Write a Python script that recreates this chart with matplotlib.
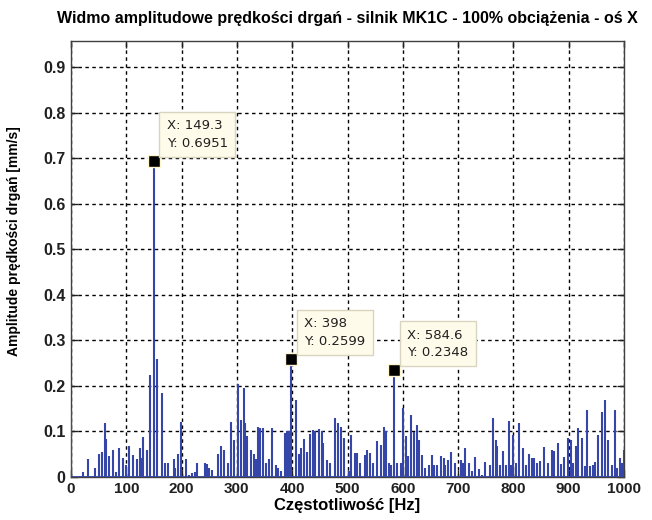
import numpy as np
from matplotlib import pyplot as plt

# widmo - odczytane prazki (czestotliwosc [Hz], amplituda [mm/s])
freq = [0, 22, 31, 43, 50, 56, 61, 64, 69, 75, 81, 86, 94, 99, 104, 112, 119, 124, 127, 130, 137,
        143, 149.3, 156, 164, 170, 175, 186, 188, 193, 199, 207, 213, 218, 224, 228, 242, 245, 250, 254,
        265, 272, 277, 283, 290, 294, 302, 308, 312, 315, 319, 326, 330, 334, 339,
        342, 348, 353, 358, 363, 370, 375, 380, 387, 391, 394, 398, 406, 412, 416, 422, 426, 433, 437,
        442, 448, 453, 456, 463, 469, 477, 483, 489, 494, 503, 507, 514, 518, 522, 531, 535, 540, 546,
        553, 560, 566, 570, 575, 579, 584.6, 590, 596, 601, 606, 610, 614, 620, 625, 628, 630, 634,
        641, 647, 652, 656, 662, 669, 674,
        676, 682, 688, 694, 705, 708, 713, 720, 725, 731, 738, 743, 749, 757, 764, 768, 771, 775, 781,
        786, 792, 796, 799, 804, 810, 817, 822, 828, 833, 837, 843, 849, 856, 862, 869, 874, 880, 886,
        892, 899, 904, 908, 913, 917, 924, 929, 934, 938, 944, 948, 953, 960, 966, 971, 978, 984, 988,
        992, 997, 1000]
amp = [0.147, 0.01, 0.04, 0.02, 0.05, 0.055, 0.118, 0.083, 0.045, 0.06, 0.01, 0.064, 0.042, 0.025, 0.068,
       0.048, 0.04, 0.064, 0.042, 0.087, 0.059,
       0.224, 0.6951, 0.26, 0.184, 0.03, 0.03, 0.04, 0.02, 0.05, 0.12, 0.04, 0.005, 0.008, 0.01, 0.03,
       0.03, 0.028, 0.02, 0.015,
       0.05, 0.068, 0.06, 0.03, 0.12, 0.08, 0.205, 0.125, 0.195, 0.118, 0.09, 0.058, 0.05, 0.04, 0.11,
       0.107, 0.107, 0.03, 0.04, 0.107, 0.027, 0.02, 0.012, 0.097, 0.1, 0.1, 0.2599, 0.17, 0.05, 0.063,
       0.083, 0.055, 0.095, 0.104,
       0.1, 0.105, 0.1, 0.074, 0.038, 0.03, 0.13, 0.118, 0.11, 0.085, 0.012, 0.093, 0.052, 0.052, 0.03,
       0.048, 0.058, 0.052, 0.03,
       0.078, 0.07, 0.11, 0.1, 0.03, 0.025, 0.2348, 0.03, 0.03, 0.152, 0.09, 0.045, 0.137, 0.098, 0.115,
       0.038, 0.08, 0.047,
       0.02, 0.025, 0.048, 0.027, 0.027, 0.045, 0.042,
       0.027, 0.038, 0.055, 0.03, 0.036, 0.03, 0.063, 0.03, 0.012, 0.043, 0.018, 0.005, 0.032, 0.025,
       0.13, 0.08, 0.067, 0.025, 0.056,
       0.027, 0.122, 0.025, 0.093, 0.03, 0.118, 0.063, 0.025, 0.05, 0.042, 0.042, 0.03, 0.035, 0.065,
       0.03, 0.06, 0.057, 0.075, 0.028,
       0.043, 0.085, 0.082, 0.03, 0.067, 0.107, 0.085, 0.023, 0.147, 0.023, 0.027, 0.032, 0.093, 0.142,
       0.168, 0.082, 0.027, 0.147, 0.02,
       0.042, 0.03, 0.058]

# znaczniki (data tips)
tip_x = [149.3, 398, 584.6]
tip_y = [0.6951, 0.2599, 0.2348]

xticks = np.arange(0, 1001, 100)
yticks = np.arange(0, 0.91, 0.1)

bold_font = ['Liberation Sans', 'DejaVu Sans']

fig = plt.figure(figsize=(6.52, 5.2), dpi=100)
ax = fig.add_axes([0.109, 0.083, 0.848, 0.838])

line_col = '#3546a8'
ax.vlines(freq, 0, amp, colors=line_col, linewidth=1.5, zorder=3)
ax.plot([0, 1000], [0, 0], color=line_col, linewidth=2, zorder=3)

ax.set_xlim(0, 1000)
ax.set_ylim(0, 0.958)
ax.set_xticks(xticks)
ax.set_yticks(yticks)
ax.set_xticklabels([str(v) for v in xticks], fontsize=11, fontweight='bold', family=bold_font)
ax.set_yticklabels(['0'] + ['%.1f' % v for v in yticks[1:]], fontsize=11.5, fontweight='bold',
                   family=bold_font)
ax.tick_params(direction='in', top=True, right=True, length=5, width=1, pad=4, colors='#202020')
ax.grid(True, color='black', linestyle=(0, (2.5, 2.5)), linewidth=1.0)
ax.set_axisbelow(True)
for sp in ax.spines.values():
    sp.set_color('#404040')
    sp.set_linewidth(1.0)

ax.set_title('Widmo amplitudowe prędkości drgań - silnik MK1C - 100% obciążenia - oś X',
             fontsize=11.5, fontweight='bold', family=bold_font, pad=13)
ax.set_xlabel('Częstotliwość [Hz]', fontsize=12, fontweight='bold', family=bold_font, labelpad=1)
ax.set_ylabel('Amplitude prędkości drgań [mm/s]', fontsize=10, fontweight='bold', family=bold_font)
ax.yaxis.set_label_coords(-0.09, 0.54)

for x, y in zip(tip_x, tip_y):
    ax.plot(x, y, 's', color='black', markersize=8, markeredgecolor='#fff6d0', markeredgewidth=1,
            zorder=5)
    ax.annotate('X: %s\nY: %s' % (('%g' % x), ('%.4f' % y)), (x, y), xytext=(13, 11),
                textcoords='offset pixels', ha='left', va='bottom', fontsize=9.5, color='#202020',
                family='DejaVu Sans', linespacing=1.45,
                bbox=dict(boxstyle='square,pad=0.55', facecolor='#fffbea', edgecolor='#d8d4c0',
                          linewidth=1), zorder=6)

fig.savefig('out.png', dpi=100)
